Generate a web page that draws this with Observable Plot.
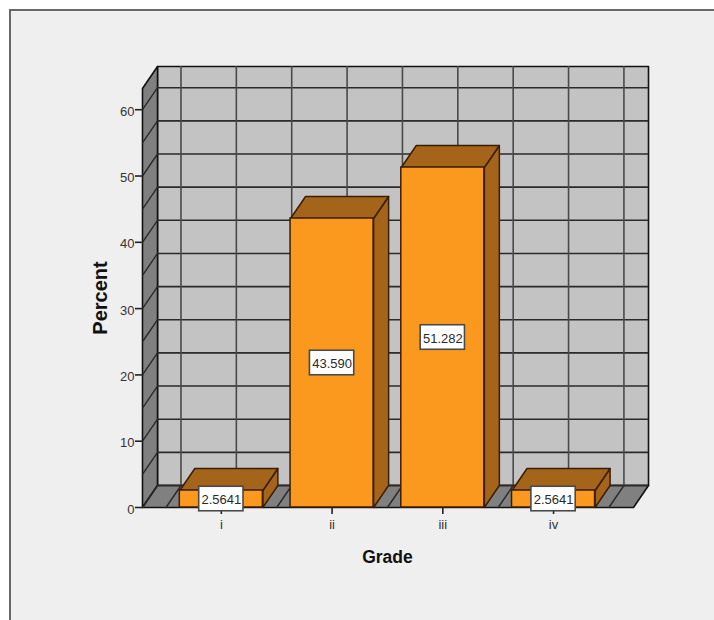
<!DOCTYPE html>
<html>
<head>
<meta charset="utf-8">
<script src="https://cdn.jsdelivr.net/npm/d3@7"></script>
<script src="https://cdn.jsdelivr.net/npm/@observablehq/plot@0.6"></script>
<style>
  html, body { margin: 0; padding: 0; background: #ffffff; }
  #frame {
    position: absolute; left: 9px; top: 9px;
    width: 705px; height: 611px; box-sizing: border-box;
    background: #efefef; border-left: 2px solid #686868; border-top: 2px solid #686868;
  }
  #chart { position: absolute; left: 0; top: 0; }
</style>
</head>
<body>
<div id="frame"></div>
<div id="chart"></div>
<script>
// Grade distribution, percent of cases
const grades = ["i", "ii", "iii", "iv"];
const percents = [2.5641, 43.590, 51.282, 2.5641];
const valueLabels = ["2.5641", "43.590", "51.282", "2.5641"];

const percentTicks = [0, 10, 20, 30, 40, 50, 60];
const wallRows = [0, 5, 10, 15, 20, 25, 30, 35, 40, 45, 50, 55, 60];
const wallColumns = [-0.5, 0, 0.5, 1, 1.5, 2, 2.5, 3, 3.5];

// Axis extents and the 3D extrusion, all in data units
const xMin = -0.712, xMax = 3.722, yMax = 63.2;
const depthX = 0.1355, depthY = 3.32;
const barHalf = 0.375;
const boxHalfX = 0.2, boxHalfY = 1.85;

const categories = grades.map((g, i) => i);

// Turn named polygons into rows for a filled line mark
const poly = (id, pts) => pts.map(([x, y]) => ({id, x, y}));
const closed = (id, pts) => poly(id, [...pts, pts[0]]);
const sidePoly = (v, i) => closed("side" + i, [
  [i + barHalf, 0], [i + barHalf + depthX, depthY],
  [i + barHalf + depthX, v + depthY], [i + barHalf, v]
]);
const topPoly = (v, i) => closed("top" + i, [
  [i - barHalf, v], [i - barHalf + depthX, v + depthY],
  [i + barHalf + depthX, v + depthY], [i + barHalf, v]
]);

const backWall = closed("back", [[xMin + depthX, depthY], [xMax + depthX, depthY], [xMax + depthX, yMax + depthY], [xMin + depthX, yMax + depthY]]);
const leftWall = closed("left", [[xMin, 0], [xMin + depthX, depthY], [xMin + depthX, yMax + depthY], [xMin, yMax]]);
const floor = closed("floor", [[xMin, 0], [xMax, 0], [xMax + depthX, depthY], [xMin + depthX, depthY]]);

const wallFill = "#c3c3c3", sideFill = "#808080", gridStroke = "#2a2a2a";
const barFill = "#fb991f", shadeFill = "#a4641a", barStroke = "#3b1e05";
const filled = (fill, stroke, strokeWidth) => ({x: "x", y: "y", z: "id", fill, stroke, strokeWidth, curve: "linear"});

const plot = Plot.plot({
  width: 714,
  height: 620,
  marginLeft: 142,
  marginRight: 81,
  marginTop: 88,
  marginBottom: 113,
  style: {background: "transparent", fontFamily: "'Liberation Sans', Arial, sans-serif"},
  x: {domain: [xMin, xMax], axis: null},
  y: {domain: [0, yMax], axis: null},
  marks: [
    Plot.line(backWall, filled(wallFill, "#111", 1.6)),
    Plot.line(leftWall, filled(sideFill, "#111", 1.6)),
    Plot.line(floor, filled(sideFill, "#111", 1.6)),

    // Grid on the back wall
    Plot.ruleY(wallRows, {y: d => d + depthY, x1: xMin + depthX, x2: xMax + depthX, stroke: gridStroke, strokeWidth: 1.6}),
    Plot.ruleX(wallColumns, {x: d => d + depthX, y1: depthY, y2: yMax + depthY, stroke: "#4a4a4a", strokeWidth: 1.6}),

    // Grid carried across the left wall and the floor
    Plot.line(wallRows.flatMap(v => poly("row" + v, [[xMin, v], [xMin + depthX, v + depthY]])),
      {x: "x", y: "y", z: "id", stroke: gridStroke, strokeWidth: 1.4}),
    Plot.line(wallColumns.flatMap(c => poly("col" + c, [[c, 0], [c + depthX, depthY]])),
      {x: "x", y: "y", z: "id", stroke: gridStroke, strokeWidth: 1.4}),

    // Tick marks and their labels, with the labels set slightly lower
    Plot.axisY({ticks: percentTicks, tickSize: 7, tickFormat: () => "", stroke: "#222", label: null, strokeWidth: 1.6}),
    Plot.axisY({ticks: percentTicks, tickSize: 0, tickPadding: 8, dy: 2, fontSize: 13, color: "#333", label: null}),
    Plot.axisX({ticks: categories, tickFormat: i => grades[i], tickSize: 7, tickPadding: 5, fontSize: 13, stroke: "#222", color: "#333", label: null, strokeWidth: 1.6}),

    // Extruded bars
    Plot.line(percents.flatMap(sidePoly), filled(shadeFill, barStroke, 1.5)),
    Plot.line(percents.flatMap(topPoly), filled(shadeFill, barStroke, 1.5)),
    Plot.rect(categories, {
      x1: i => i - barHalf, x2: i => i + barHalf,
      y1: 0, y2: i => percents[i],
      fill: barFill, stroke: barStroke, strokeWidth: 1.5
    }),

    // Value labels in boxes at the middle of each bar
    Plot.rect(categories, {
      x1: i => i - boxHalfX, x2: i => i + boxHalfX,
      y1: i => percents[i] / 2 - boxHalfY, y2: i => percents[i] / 2 + boxHalfY,
      fill: "#ffffff", stroke: "#4a4a4a", strokeWidth: 1.6
    }),
    Plot.text(categories, {
      x: i => i, y: i => percents[i] / 2, dy: 1, text: i => valueLabels[i],
      fontSize: 13, fill: "#2a2a2a"
    }),

    // Axis titles
    Plot.text(["Grade"], {x: [1.5], frameAnchor: "bottom", dy: 55, fontSize: 17.5, fontWeight: "bold", fill: "#111"}),
    Plot.text(["Percent"], {y: [yMax / 2], frameAnchor: "left", textAnchor: "middle", rotate: -90, dx: -42, fontSize: 20, fontWeight: "bold", fill: "#111"})
  ]
});
document.getElementById("chart").append(plot);
</script>
</body>
</html>
